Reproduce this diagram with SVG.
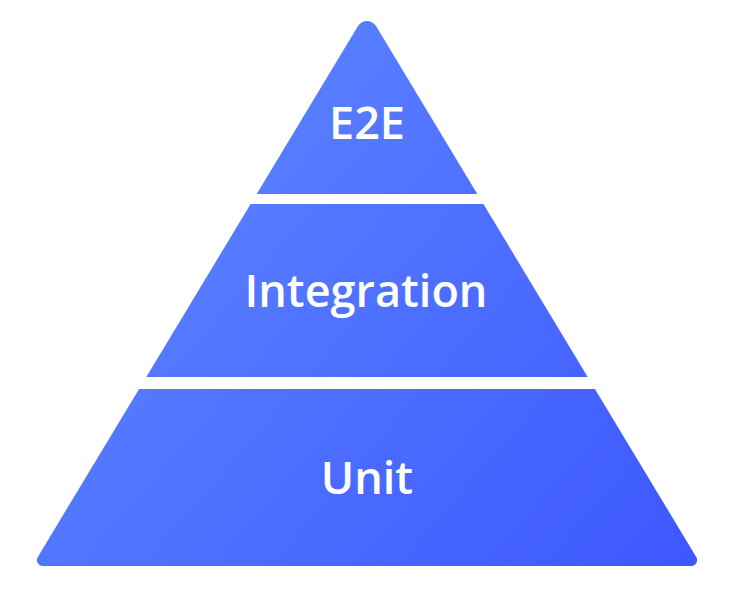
<svg xmlns="http://www.w3.org/2000/svg" width="732" height="608" viewBox="0 0 732 608">
  <defs>
    <linearGradient id="blue" gradientUnits="userSpaceOnUse" x1="120" y1="60" x2="700" y2="566">
      <stop offset="0" stop-color="#5e87ff"/>
      <stop offset="1" stop-color="#3c57ff"/>
    </linearGradient>
  </defs>
  <style>
    .layer { fill: url(#blue); }
    .label { fill: #ffffff; font-family: "Open Sans", Inter, "Liberation Sans", sans-serif; font-weight: 600; font-size: 45px; text-anchor: middle; }
  </style>
  <rect width="732" height="608" fill="#ffffff"/>
  <g id="e2e">
    <path class="layer" d="M357.85,26.17 A10.7,10.7 0 0 1 376.15,26.17 L477.3,194 L256.7,194 Z"/>
    <text class="label" x="367" y="139">E2E</text>
  </g>
  <g id="integration">
    <path class="layer" d="M250.6,204 L483.4,204 L587.7,377 L146.3,377 Z"/>
    <text class="label" x="366" y="307">Integration</text>
  </g>
  <g id="unit">
    <path class="layer" d="M139.1,389 L594.9,389 L696.2,556.9 A6,6 0 0 1 691.1,566 L42.9,566 A6,6 0 0 1 37.8,556.9 Z"/>
    <text class="label" x="367" y="494">Unit</text>
  </g>
  <g id="connectors"/>
</svg>
